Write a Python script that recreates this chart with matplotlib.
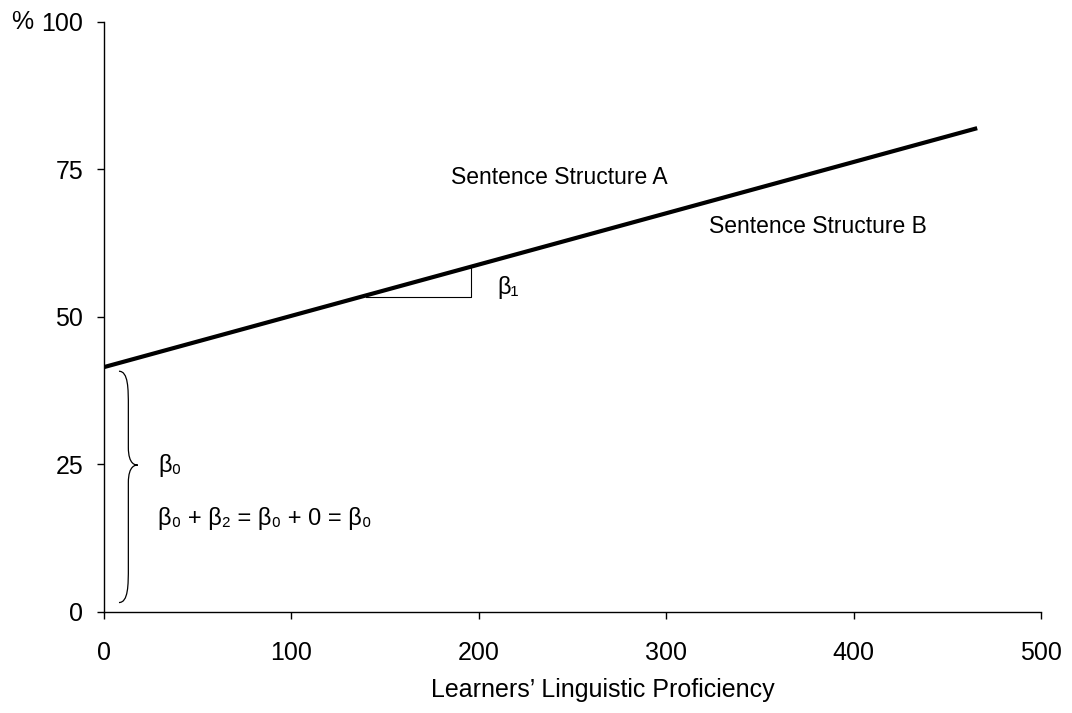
import matplotlib.pyplot as plt
from matplotlib.path import Path as MPath
from matplotlib.patches import PathPatch

plt.rcParams["font.family"] = ["Liberation Sans", "DejaVu Sans"]

# regression line (proficiency vs %)
line_x = [0, 466]
line_y = [41.5, 82.0]

# slope triangle
tri_x = [140, 196]
tri_y = 53.4

x_ticks = [0, 100, 200, 300, 400, 500]
y_ticks = [0, 25, 50, 75, 100]

fig = plt.figure(figsize=(10.72, 7.13), dpi=100)
ax = fig.add_axes([0.097, 0.1417, 0.874, 0.8275])

ax.plot(line_x, line_y, color="black", lw=3.0, solid_capstyle="butt")

slope = (line_y[1] - line_y[0]) / (line_x[1] - line_x[0])
tri_top = line_y[0] + slope * tri_x[1]
ax.plot([tri_x[0], tri_x[1], tri_x[1]], [tri_y, tri_y, tri_top], color="black", lw=0.8)

# curly brace for beta0
bx0, bx1, ytop, ybot, ymid = 8, 18, 40.8, 1.6, 24.9
c = 2.5
verts = [
    (bx0, ytop), (bx0 + c * 2, ytop), (bx0 + c * 2, ytop - 3), (bx0 + c * 2, ytop - 6),
    (bx0 + c * 2, ymid + 3),
    (bx0 + c * 2, ymid), (bx1 - 1, ymid), (bx1, ymid),
    (bx1 - 1, ymid), (bx0 + c * 2, ymid), (bx0 + c * 2, ymid - 3),
    (bx0 + c * 2, ybot + 6),
    (bx0 + c * 2, ybot + 3), (bx0 + c * 2, ybot), (bx0, ybot),
]
codes = [MPath.MOVETO, MPath.CURVE4, MPath.CURVE4, MPath.CURVE4,
         MPath.LINETO,
         MPath.CURVE4, MPath.CURVE4, MPath.CURVE4,
         MPath.CURVE4, MPath.CURVE4, MPath.CURVE4,
         MPath.LINETO,
         MPath.CURVE4, MPath.CURVE4, MPath.CURVE4]
ax.add_patch(PathPatch(MPath(verts, codes), fill=False, lw=0.9, color="black"))

ax.text(185, 73.7, "Sentence Structure A", fontsize=16.5, va="center")
ax.text(323, 65.4, "Sentence Structure B", fontsize=16.5, va="center")
ax.text(210, 55.0, "β₁", fontsize=17, va="center")
ax.text(29, 24.9, "β₀", fontsize=17, va="center")
ax.text(29, 15.8, "β₀ + β₂ = β₀ + 0 = β₀", fontsize=17, va="center")

ax.set_xlim(0, 500)
ax.set_ylim(0, 100)
ax.set_xticks(x_ticks)
ax.set_yticks(y_ticks)
ax.tick_params(labelsize=18, direction="out", length=5, width=1)
ax.tick_params(axis="x", pad=16)
ax.tick_params(axis="y", pad=10)
for s in ["top", "right"]:
    ax.spines[s].set_visible(False)
for s in ["left", "bottom"]:
    ax.spines[s].set_linewidth(1.0)
ax.set_xlabel("Learners’ Linguistic Proficiency", fontsize=18)
ax.xaxis.set_label_coords(0.5325, -0.112)
ax.text(-0.099, 1.0, "%", transform=ax.transAxes, fontsize=18, va="center")

fig.savefig("out.png", dpi=100)
